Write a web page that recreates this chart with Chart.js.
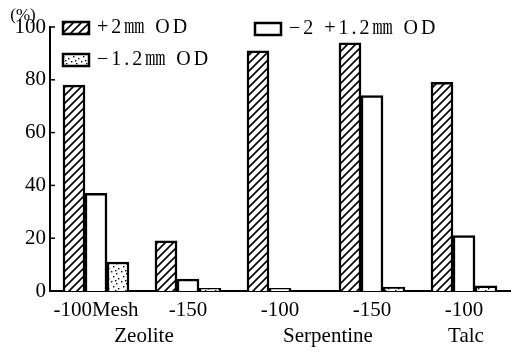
<!DOCTYPE html>
<html><head><meta charset="utf-8">
<script src="https://cdn.jsdelivr.net/npm/chart.js@4.4.1/dist/chart.umd.min.js"></script>
<style>html,body{margin:0;padding:0;background:#fff;}canvas{display:block;}</style>
</head><body>
<canvas id="c" width="511" height="353"></canvas>
<script>
// ---- data ----
const categories = ['-100Mesh', '-150', '-100', '-150', '-100'];
const groupNames = ['Zeolite', 'Serpentine', 'Talc'];
const groupFirst = [0, 2, 4];
const groupLast = [1, 3, 4];
const seriesNames = ['+2㎜ OD', '−2 +1.2㎜ OD', '−1.2㎜ OD'];
const plus2 = [78, 19, 91, 94, 79];
const mid = [37, 4.5, 1, 74, 21];
const minus12 = [11, 1, 0, 1.5, 2];
const yTicks = [0, 20, 40, 60, 80, 100];
const yUnit = '(%)';

const FONT = "'Liberation Serif', 'Noto Serif CJK JP', 'Noto Sans CJK JP', serif";
const canvas = document.getElementById('c');
const ctx = canvas.getContext('2d');

function makeHatch() {
  const s = 8;
  const c = document.createElement('canvas'); c.width = s; c.height = s;
  const g = c.getContext('2d');
  g.fillStyle = '#fff'; g.fillRect(0, 0, s, s);
  g.strokeStyle = '#000'; g.lineWidth = 1.6; g.lineCap = 'square';
  g.beginPath();
  g.moveTo(-1, s + 1); g.lineTo(s + 1, -1);
  g.moveTo(-2, 2); g.lineTo(2, -2);
  g.moveTo(s - 2, s + 2); g.lineTo(s + 2, s - 2);
  g.stroke();
  return ctx.createPattern(c, 'repeat');
}
function makeDots() {
  const s = 10;
  const c = document.createElement('canvas'); c.width = s; c.height = s;
  const g = c.getContext('2d');
  g.fillStyle = '#fff'; g.fillRect(0, 0, s, s);
  g.fillStyle = '#000';
  [[1,1],[6,3],[3,6],[8,8],[5,0]].forEach(([x,y]) => { g.fillRect(x, y, 1.4, 1.4); });
  return ctx.createPattern(c, 'repeat');
}
const fills = [makeHatch(), '#ffffff', makeDots()];
const seriesData = [plus2, mid, minus12];

const decor = {
  id: 'decor',
  afterDraw(chart) {
    const c = chart.ctx, a = chart.chartArea;
    const xs = chart.scales.x, ys = chart.scales.y;
    c.save();
    c.strokeStyle = '#000'; c.lineWidth = 1.5;
    // inner y ticks
    yTicks.forEach(v => {
      const y = ys.getPixelForValue(v);
      c.beginPath(); c.moveTo(a.left, y); c.lineTo(a.left + 5, y); c.stroke();
    });
    // unit label
    c.fillStyle = '#000';
    c.font = '17px ' + FONT; c.textAlign = 'center'; c.textBaseline = 'middle';
    c.fillText(yUnit, 23, 16);
    // group labels
    c.font = '21px ' + FONT;
    groupNames.forEach((n, i) => {
      const x = (xs.getPixelForValue(groupFirst[i]) + xs.getPixelForValue(groupLast[i])) / 2;
      c.fillText(n, x + 2, 336);
    });
    // legend
    const pos = [[a.left + 13, 22], [a.left + 205, 23], [a.left + 13, 54]];
    c.font = '20px ' + FONT; c.textAlign = 'left';
    try { c.letterSpacing = '3px'; } catch (e) {}
    seriesNames.forEach((n, i) => {
      const [x, y] = pos[i];
      c.fillStyle = fills[i];
      c.fillRect(x, y, 26, 12);
      c.lineWidth = 2.5; c.strokeStyle = '#000';
      c.strokeRect(x, y, 26, 12);
      c.fillStyle = '#000';
      c.fillText(n, x + 34, y + 6);
    });
    c.restore();
  }
};

new Chart(canvas, {
  type: 'bar',
  data: {
    labels: categories,
    datasets: seriesData.map((d, i) => ({
      label: seriesNames[i],
      data: d,
      backgroundColor: fills[i],
      borderColor: '#000',
      borderWidth: 2.5,
      barThickness: 22
    }))
  },
  options: {
    responsive: false,
    animation: false,
    events: [],
    layout: { padding: { top: 27, right: 1, left: 0, bottom: 0 } },
    plugins: { legend: { display: false }, tooltip: { enabled: false } },
    scales: {
      x: {
        offset: true,
        grid: { display: false, drawTicks: false },
        border: { display: true, color: '#000', width: 2 },
        ticks: { color: '#000', font: { family: FONT, size: 21 }, padding: 7, maxRotation: 0, autoSkip: false },
        afterFit(s) { s.height = 62; }
      },
      y: {
        min: 0, max: 100,
        afterBuildTicks(s) { s.ticks = yTicks.map(v => ({ value: v })); },
        grid: { display: false, drawTicks: false },
        border: { display: true, color: '#000', width: 2 },
        ticks: { color: '#000', font: { family: FONT, size: 21 }, padding: 4 },
        afterFit(s) { s.width = 50; }
      }
    }
  },
  plugins: [decor]
});
</script>
</body></html>
